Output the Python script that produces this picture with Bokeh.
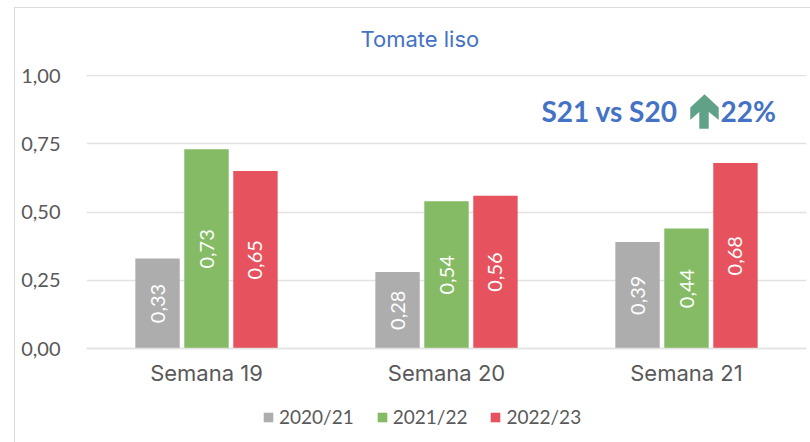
from bokeh.plotting import figure
from bokeh.models import (ColumnDataSource, FactorRange, Range1d, FixedTicker, Label, Legend,
                          LegendItem, PolyAnnotation, Title)
from bokeh.transform import dodge
from bokeh.core.properties import value
from bokeh.embed import file_html
from bokeh.resources import INLINE
import math

categories = ["Semana 19", "Semana 20", "Semana 21"]
series_names = ["2020/21", "2021/22", "2022/23"]
v2021 = [0.33, 0.28, 0.39]
v2122 = [0.73, 0.54, 0.44]
v2223 = [0.65, 0.56, 0.68]
colors = ["#adadad", "#84bb64", "#e6525d"]
y_ticks = [0, 0.25, 0.5, 0.75, 1.0]
y_labels = ["0,00", "0,25", "0,50", "0,75", "1,00"]
title_text = "Tomate liso"
note_left = "S21 vs S20"
note_right = "22%"

NUM = "Lato"
WORD = "Inter"
TXT = "#595959"
BLUE = "#4472c4"
GRID = "#e2e2e2"

# page position of the frame, to place the free annotations
FX, FY = 86, 442
def sx(x): return x - FX
def sy(y): return FY - y

# the frame runs down to the page's foot, so that the legend can lie inside it; the x axis is fixed at y=0
p = figure(width=810, height=442, x_range=FactorRange(factors=categories, factor_padding=0, range_padding=0),
           y_range=Range1d(-0.3444, 1.004), output_backend="svg", toolbar_location=None,
           frame_width=720, frame_height=368,
           min_border_left=86, min_border_right=4, min_border_top=74, min_border_bottom=0,
           margin=(0, 0, 0, 0), outline_line_color=None, background_fill_color="white")
p.title = Title(text=title_text, align="left", offset=274, standoff=45, text_font=WORD, text_font_size="22px",
                text_font_style="normal", text_color=BLUE)
p.stylesheets = [":host::before{content:'';position:absolute;left:14px;top:7px;right:0;bottom:0;"
                 "border-left:1.5px solid #dcdcdc;border-top:1.5px solid #dcdcdc;z-index:10;pointer-events:none;}"]

p.xgrid.grid_line_color = None
p.ygrid.grid_line_color = GRID
p.ygrid.grid_line_width = 1.5
p.ygrid.ticker = FixedTicker(ticks=y_ticks)
p.yaxis.ticker = FixedTicker(ticks=y_ticks)
p.yaxis.major_label_overrides = dict(zip(y_ticks, y_labels))
p.yaxis.axis_line_color = None
p.yaxis.major_tick_line_color = None
p.yaxis.minor_tick_line_color = None
p.yaxis.major_label_standoff = 20
p.yaxis.major_label_text_font = NUM
p.yaxis.major_label_text_font_size = "20px"
p.yaxis.major_label_text_color = TXT
p.xaxis.fixed_location = 0
p.xaxis.axis_line_color = GRID
p.xaxis.axis_line_width = 1.5
p.xaxis.major_tick_line_color = None
p.xaxis.minor_tick_line_color = None
p.xaxis.major_label_standoff = 5
p.xaxis.major_label_text_font = WORD
p.xaxis.major_label_text_font_size = "22px"
p.xaxis.major_label_text_color = TXT

items = []
offsets = [-0.204, 0.0, 0.204]
for name, vals, col, off in zip(series_names, [v2021, v2122, v2223], colors, offsets):
    src = ColumnDataSource(dict(cat=categories, val=vals, mid=[v / 2 for v in vals],
                                lab=[f"{v:.2f}".replace(".", ",") for v in vals]))
    r = p.vbar(x=dodge("cat", off, range=p.x_range), top="val", width=0.185, source=src,
               fill_color=col, line_color=None)
    p.text(x=dodge("cat", off, range=p.x_range), y="mid", text="lab", source=src, angle=math.pi / 2,
           text_align="center", text_baseline="middle", text_color="white",
           text_font=value(NUM), text_font_size="20px")
    items.append(LegendItem(label=name, renderers=[r]))

legend = Legend(items=items, orientation="horizontal", location=(176, 14), border_line_color=None,
                background_fill_alpha=0, glyph_width=12, glyph_height=12, label_standoff=5,
                spacing=22, padding=0, margin=0, label_text_font=NUM, label_text_font_size="19px",
                label_text_color=TXT)
p.add_layout(legend)

p.add_layout(Label(x=sx(541), y=sy(110), x_units="screen", y_units="screen", text=note_left, text_align="left",
                   text_baseline="middle", text_font=NUM, text_font_style="bold", text_font_size="28px",
                   text_color=BLUE))
p.add_layout(Label(x=sx(720), y=sy(110), x_units="screen", y_units="screen", text=note_right, text_align="left",
                   text_baseline="middle", text_font=NUM, text_font_style="bold", text_font_size="28px",
                   text_color=BLUE))
arrow_x = [704, 690, 690, 699, 699, 708, 708, 718, 718]
arrow_y = [94, 107, 119, 111, 128, 128, 111, 119, 107]
p.add_layout(PolyAnnotation(xs=[sx(x) for x in arrow_x], ys=[sy(y) for y in arrow_y],
                            xs_units="screen", ys_units="screen", fill_color="#5fa288", fill_alpha=1,
                            line_color="#44806a", line_width=1))

open("out.html", "w").write(file_html(p, INLINE))
